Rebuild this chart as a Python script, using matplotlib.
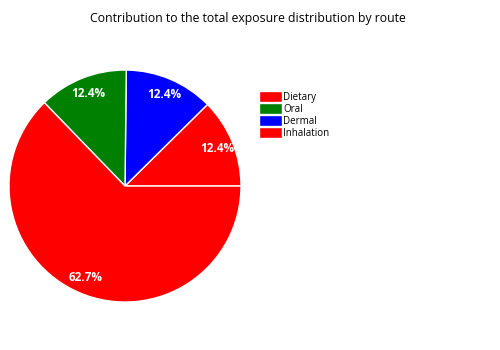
import matplotlib
matplotlib.use("Agg")
import matplotlib.pyplot as plt

plt.rcParams['font.family'] = ['Open Sans', 'DejaVu Sans']

# slices drawn counter-clockwise from 3 o'clock
routes = ['Dietary', 'Dermal', 'Oral', 'Inhalation']
shares = [12.4, 12.4, 12.4, 62.7]
colors = ['#ff0000', '#0000ff', '#008000', '#ff0000']
legend_order = ['Dietary', 'Oral', 'Dermal', 'Inhalation']

fig = plt.figure(figsize=(5, 3.5), dpi=100)
ax = fig.add_axes([0.018, 0.137, 0.464, 0.663])

wedges, texts, autotexts = ax.pie(
    shares, colors=colors, startangle=0, counterclock=True,
    autopct='%.1f%%', pctdistance=0.86,
    wedgeprops=dict(edgecolor='white', linewidth=1),
    textprops=dict(color='white', fontsize=8.5, fontweight='bold'))
# show the shares as given rather than renormalised
for t, v in zip(autotexts, shares):
    t.set_text(f'{v:.1f}%')
ax.set_xlim(-1, 1)
ax.set_ylim(-1, 1)
ax.set_aspect('equal')

fig.suptitle('Contribution to the total exposure distribution by route',
             x=0.496, y=0.965, fontsize=8.8)

handles = [wedges[routes.index(r)] for r in legend_order]
fig.legend(handles, legend_order, loc='upper left',
           bbox_to_anchor=(0.518, 0.74), frameon=False, fontsize=7,
           handlelength=2.4, handleheight=1.3, handletextpad=0.1,
           labelspacing=0.05, borderpad=0, borderaxespad=0)

fig.savefig('out.png', dpi=100)
